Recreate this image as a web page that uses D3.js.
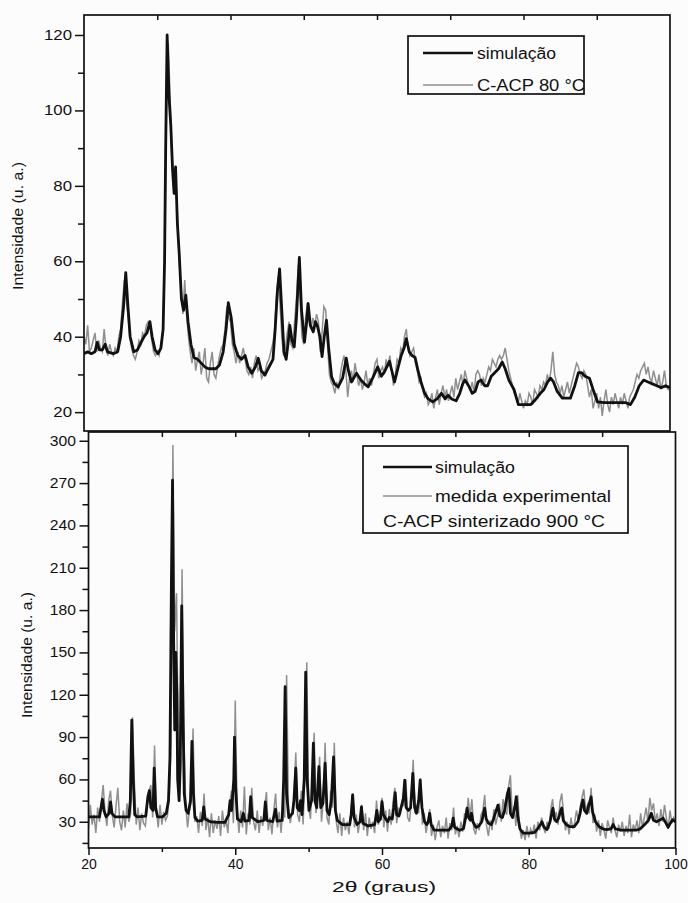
<!DOCTYPE html>
<html>
<head>
<meta charset="utf-8">
<script src="https://cdn.jsdelivr.net/npm/d3@7"></script>
<style>
  body { margin: 0; background: #fcfcfc; }
  svg { display: block; font-family: "Liberation Sans", Arial, Helvetica, sans-serif; }
</style>
</head>
<body>
<svg width="688" height="903"></svg>
<script>
// measured patterns are sampled every 0.25 degrees starting at 20
var twoThetaStart = 20, twoThetaStep = 0.25;

var xTicks = [20, 40, 60, 80, 100];
var xMinorTicks = [30, 50, 70, 90];
var edgeTicks = [30, 40, 50, 60, 70, 80, 90];

var topYTicks = [20, 40, 60, 80, 100, 120];
var topYMinor = [30, 50, 70, 90, 110];
var bottomYTicks = [30, 60, 90, 120, 150, 180, 210, 240, 270, 300];
var bottomYMinor = [15, 45, 75, 105, 135, 165, 195, 225, 255, 285];

var topLegend = ['simulação', 'C-ACP 80 °C'];
var bottomLegend = ['simulação', 'medida experimental', 'C-ACP sinterizado 900 °C'];

// [2theta, intensity]
var topSimulation = [
  [20, 35.5], [20.5, 36], [21, 35.5], [21.5, 36], [21.8, 38.5], [22.1, 36.5], [22.5, 36.5], [22.9, 38], [23.2, 36], [24, 35.5],
  [24.6, 36], [25, 40], [25.4, 48], [25.7, 57], [26, 48], [26.3, 40], [26.8, 36], [27.3, 36.5], [27.8, 38.5], [28.2, 40],
  [28.6, 41], [29, 44], [29.3, 40], [29.7, 36.5], [30.1, 35.5], [30.5, 37], [30.8, 42], [31.0, 60], [31.15, 90], [31.35, 120],
  [31.6, 104], [31.85, 96], [32.1, 84], [32.3, 78], [32.5, 85], [32.75, 70], [33.0, 62], [33.3, 50], [33.6, 47], [33.9, 51],
  [34.2, 44], [34.6, 38], [35.0, 34.5], [35.5, 34], [36, 33], [36.5, 32], [37, 31.5], [38, 31.5], [38.5, 32.5], [39, 36],
  [39.4, 42], [39.7, 49], [40.1, 45], [40.5, 38], [41.0, 35], [41.5, 34], [42.0, 35], [42.4, 32], [42.9, 30.3], [43.4, 32],
  [43.8, 34.3], [44.2, 31], [44.7, 29.8], [45.0, 31], [45.4, 32.5], [45.8, 34], [46.1, 42], [46.4, 52], [46.7, 58], [47.0, 47],
  [47.3, 36], [47.6, 34], [47.9, 39], [48.1, 43], [48.4, 39], [48.7, 37.3], [49.0, 45], [49.4, 61], [49.7, 47], [50.1, 38.6],
  [50.4, 44], [50.6, 48.8], [50.9, 43], [51.3, 41.3], [51.6, 44], [51.9, 42.6], [52.2, 40], [52.5, 34.7], [52.8, 40], [53.1, 44.4],
  [53.4, 37], [53.8, 29.4], [54.2, 27.5], [54.7, 26.7], [55.3, 29], [55.8, 34.3], [56.1, 31], [56.5, 28], [57.2, 30.3], [57.8, 28.5],
  [58.3, 27.5], [58.8, 26.7], [59.4, 29], [60.1, 32], [60.6, 29.5], [61.1, 31], [61.7, 33.5], [62.4, 28], [62.9, 32], [63.3, 35],
  [63.7, 37], [64.0, 39.5], [64.4, 36], [64.8, 35], [65.2, 34.5], [65.6, 31], [66.0, 28], [66.5, 25], [67.0, 23.5], [67.6, 22.7],
  [68.2, 23.5], [68.8, 25], [69.3, 23.5], [69.7, 24.5], [70.2, 23.5], [70.8, 23], [71.3, 25], [71.7, 27.5], [72.0, 28.5], [72.5, 27],
  [73.0, 25], [73.4, 25.5], [73.8, 28], [74.2, 28.5], [74.7, 27], [75.1, 27], [75.6, 29.5], [76.1, 30.5], [76.6, 31.5], [77.1, 33.3],
  [77.5, 31.5], [78.0, 28.5], [78.7, 26], [79.3, 22], [80, 22], [81, 22], [81.5, 23], [82.3, 25], [82.8, 26], [83.3, 28],
  [83.7, 29], [84.1, 28], [84.6, 25.5], [85.3, 23.7], [86.4, 23.7], [87.0, 27], [87.5, 30.5], [87.9, 30.5], [88.4, 29.5], [89.0, 29],
  [89.5, 26], [90.1, 22.7], [91, 22.5], [92, 22.5], [93, 22.5], [94, 22.5], [94.6, 22], [95.2, 24], [95.8, 27], [96.4, 28.5],
  [97, 28], [97.6, 27.5], [98.2, 27], [98.8, 26.5], [99.4, 27], [100, 26.5]
];

var topMeasured = [
  40, 38, 43, 36, 37, 39, 41, 36, 39, 37, 36, 42, 37, 35, 38, 36, 35, 37, 36, 40,
  42, 49, 55, 50, 46, 40, 37, 35, 34, 36, 39, 38, 41, 40, 43, 44, 43, 39, 36, 35,
  36, 35, 38, 41, 60, 100, 118, 104, 86, 80, 84, 72, 60, 53, 46, 55, 46, 40, 36, 33,
  37, 31, 34, 36, 30, 33, 37, 29, 28, 33, 36, 30, 29, 32, 35, 37, 38, 42, 48, 45,
  44, 38, 36, 33, 36, 33, 35, 37, 34, 31, 30, 32, 29, 33, 35, 31, 32, 29, 30, 31,
  33, 34, 36, 38, 41, 50, 56, 49, 40, 35, 37, 41, 44, 38, 37, 44, 50, 59, 50, 40,
  38, 45, 49, 44, 42, 45, 43, 46, 44, 36, 41, 48, 47, 38, 30, 28, 27, 25, 28, 26,
  30, 33, 35, 31, 24, 29, 31, 28, 33, 30, 27, 29, 26, 28, 31, 27, 29, 27, 30, 33,
  34, 29, 31, 32, 30, 34, 32, 35, 31, 27, 30, 34, 33, 37, 36, 40, 42, 37, 35, 36,
  37, 33, 31, 28, 29, 26, 24, 25, 22, 23, 25, 21, 24, 26, 22, 25, 27, 24, 26, 23,
  25, 27, 24, 29, 26, 28, 30, 27, 31, 29, 27, 26, 28, 25, 30, 31, 30, 27, 29, 28,
  30, 32, 31, 34, 33, 32, 34, 35, 34, 35, 37, 34, 31, 29, 27, 25, 24, 22, 25, 23,
  21, 23, 22, 25, 24, 22, 26, 25, 24, 27, 26, 28, 27, 30, 28, 31, 36, 30, 28, 27,
  25, 27, 24, 26, 28, 25, 27, 29, 31, 33, 32, 30, 29, 31, 30, 27, 24, 26, 21, 23,
  25, 21, 24, 19, 23, 26, 22, 20, 24, 22, 25, 23, 21, 24, 22, 25, 23, 21, 24, 25,
  26, 28, 30, 29, 31, 32, 33, 30, 32, 29, 28, 31, 29, 27, 30, 26, 28, 31, 27, 26,
  27
];

var bottomSimulation = [
  [20, 33.5], [21.5, 33.5], [21.7, 40], [21.9, 46], [22.1, 38], [22.4, 33.5], [22.8, 36], [23.0, 44], [23.2, 36], [23.6, 33.5],
  [25.5, 33.5], [25.7, 45], [25.9, 102], [26.1, 60], [26.3, 35], [26.6, 33.5], [27.8, 34], [28.1, 48], [28.3, 52], [28.5, 40],
  [28.8, 38], [28.95, 68], [29.15, 40], [29.4, 33.5], [30.1, 33.5], [30.6, 36], [30.9, 45], [31.1, 75], [31.3, 200], [31.45, 272],
  [31.6, 160], [31.75, 95], [31.9, 150], [32.05, 120], [32.15, 60], [32.35, 45], [32.5, 70], [32.7, 183], [32.9, 100], [33.05, 50],
  [33.3, 38], [33.6, 36], [33.9, 45], [34.1, 87], [34.3, 50], [34.5, 33], [34.9, 30.5], [35.5, 31], [35.7, 40.6], [35.9, 32],
  [36.6, 30], [37.6, 29.5], [38.6, 29.5], [39.1, 35], [39.3, 45], [39.5, 38], [39.8, 60], [39.9, 90], [40.05, 55], [40.3, 32],
  [40.8, 30], [41.1, 36], [41.3, 30.5], [41.9, 31], [42.1, 47.7], [42.3, 33], [43.1, 30], [43.9, 31], [44.1, 44], [44.3, 31],
  [45.1, 30], [45.5, 39], [45.7, 30.5], [46.4, 31], [46.6, 60], [46.8, 125.7], [47.0, 50], [47.3, 33], [47.8, 36], [48.0, 45],
  [48.25, 68], [48.45, 40], [48.7, 38], [48.9, 45], [49.1, 35], [49.4, 60], [49.6, 136], [49.8, 60], [50.05, 38], [50.4, 45],
  [50.65, 85.7], [50.85, 45], [51.1, 40], [51.4, 69], [51.65, 40], [51.95, 43], [52.25, 71.5], [52.5, 38], [52.8, 35], [53.1, 45],
  [53.4, 76], [53.65, 38], [53.9, 31], [54.6, 28], [55.6, 28], [55.8, 35], [56.0, 49], [56.2, 33], [56.6, 28], [57.0, 30],
  [57.2, 40.6], [57.4, 29], [58.1, 27], [59.0, 28], [59.3, 38], [59.5, 30], [59.8, 32], [60.0, 44.2], [60.2, 35], [60.5, 32],
  [60.8, 30], [61.0, 33], [61.4, 32], [61.6, 40], [61.8, 50.6], [62.0, 35], [62.3, 34], [62.6, 40], [62.9, 46], [63.1, 59.5],
  [63.3, 40], [63.6, 38], [63.9, 40], [64.2, 64.3], [64.45, 40], [64.7, 36], [65.0, 45], [65.2, 59.5], [65.45, 40], [65.8, 30],
  [66.1, 28], [66.3, 30], [66.5, 36], [66.7, 28], [67.1, 24], [68.1, 24], [69.1, 24], [69.5, 27], [69.7, 32.6], [69.9, 26],
  [70.6, 24], [71.1, 25], [71.4, 33], [71.6, 39.7], [71.8, 33], [72.05, 31], [72.2, 36], [72.4, 30], [72.8, 26], [73.2, 27],
  [73.6, 30], [73.8, 35], [74.0, 39.7], [74.2, 32], [74.5, 29], [74.9, 28], [75.2, 32], [75.5, 37], [75.8, 41.8], [76.05, 34],
  [76.4, 33], [76.7, 38], [77.1, 50], [77.3, 53.7], [77.5, 36], [77.8, 33], [78.1, 40], [78.3, 47.7], [78.5, 34], [78.8, 25],
  [79.2, 22], [80.1, 22], [80.8, 22.5], [81.2, 25], [81.6, 28], [81.8, 30], [82.1, 26], [82.5, 24.5], [82.9, 30], [83.1, 35],
  [83.3, 39.7], [83.5, 32], [83.8, 30], [84.1, 33], [84.3, 37], [84.5, 39.7], [84.7, 31], [85.1, 28], [85.6, 26.5], [86.2, 26.5],
  [86.7, 30], [87.0, 36], [87.2, 42], [87.4, 45.4], [87.6, 38], [87.9, 36], [88.2, 42], [88.5, 47.7], [88.7, 37], [89.1, 30],
  [89.6, 26.5], [90.1, 25], [90.6, 24.5], [91.2, 25], [91.5, 28], [91.8, 25], [92.6, 24], [93.6, 24], [94.6, 24], [95.2, 25],
  [95.8, 28], [96.3, 31], [96.7, 36], [97.0, 31], [97.4, 30], [97.8, 31], [98.3, 32.6], [98.7, 29], [99.0, 26], [99.3, 29],
  [99.6, 31.5], [100, 30]
];

var bottomMeasured = [
  25, 42, 28, 35, 22, 40, 30, 44, 56, 37, 27, 45, 52, 34, 26, 41, 54, 30, 24, 38,
  26, 43, 30, 36, 104, 58, 28, 40, 24, 36, 29, 27, 41, 52, 56, 33, 84, 39, 26, 42,
  28, 37, 31, 34, 46, 88, 297, 165, 192, 70, 58, 209, 90, 42, 26, 38, 44, 96, 30, 34,
  22, 37, 27, 50, 24, 33, 19, 36, 22, 31, 25, 34, 20, 38, 26, 31, 22, 44, 52, 29,
  116, 40, 22, 38, 26, 55, 21, 36, 28, 54, 30, 24, 38, 22, 34, 27, 40, 51, 24, 33,
  21, 38, 50, 26, 37, 22, 42, 33, 134, 40, 29, 37, 46, 79, 35, 30, 52, 28, 66, 143,
  40, 32, 58, 93, 36, 47, 76, 30, 45, 86, 33, 28, 52, 40, 86, 31, 22, 36, 20, 33,
  24, 30, 21, 37, 50, 26, 35, 22, 31, 42, 24, 36, 20, 33, 25, 30, 22, 45, 28, 36,
  47, 26, 38, 23, 39, 28, 44, 54, 29, 40, 35, 46, 41, 60, 33, 30, 45, 74, 36, 42,
  36, 61, 28, 36, 22, 30, 39, 20, 28, 17, 26, 31, 19, 27, 22, 33, 18, 29, 24, 40,
  21, 27, 19, 30, 23, 36, 32, 47, 33, 46, 25, 21, 29, 24, 35, 38, 49, 27, 20, 31,
  24, 39, 28, 34, 43, 30, 46, 38, 35, 55, 63, 35, 41, 27, 49, 26, 18, 24, 17, 27,
  19, 25, 21, 28, 18, 30, 24, 33, 26, 22, 30, 25, 39, 46, 30, 37, 28, 44, 50, 35,
  24, 30, 21, 33, 25, 29, 38, 31, 40, 47, 53, 38, 42, 36, 54, 29, 35, 23, 31, 20,
  29, 24, 18, 31, 26, 22, 33, 24, 19, 28, 23, 30, 20, 27, 22, 35, 19, 28, 24, 31,
  22, 36, 26, 33, 40, 29, 47, 38, 43, 30, 36, 27, 39, 30, 42, 33, 25, 38, 29, 33,
  30
];

var svg = d3.select('svg');
var ink = '#111';
var grey = '#8f8f8f';

function toPoints(values) {
  return values.map(function (v, i) { return [twoThetaStart + i * twoThetaStep, v]; });
}

var panels = [
  { name: 'top', x0: 84, x1: 670, yTop: 15, yBottom: 431, domain: [15, 125.3],
    major: topYTicks, minor: topYMinor, sim: topSimulation, meas: topMeasured,
    titleX: 18, titleY: 226, titleLen: 128, labelGap: 12, labelScale: 1.2 },
  { name: 'bottom', x0: 88.5, x1: 675.5, yTop: 432, yBottom: 848, domain: [11.4, 306.2],
    major: bottomYTicks, minor: bottomYMinor, sim: bottomSimulation, meas: bottomMeasured,
    titleX: 27, titleY: 655, titleLen: 126, labelGap: 12.5, labelScale: 1.12 }
];

panels.forEach(function (p) {
  var x = d3.scaleLinear().domain([20, 100]).range([p.x0, p.x1]);
  var y = d3.scaleLinear().domain(p.domain).range([p.yBottom, p.yTop]);
  var g = svg.append('g');

  g.append('clipPath').attr('id', 'clip-' + p.name)
    .append('rect')
    .attr('x', p.x0).attr('y', p.yTop)
    .attr('width', p.x1 - p.x0).attr('height', p.yBottom - p.yTop);

  var line = d3.line()
    .x(function (d) { return x(d[0]); })
    .y(function (d) { return y(d[1]); });

  g.append('path')
    .datum(toPoints(p.meas))
    .attr('d', line)
    .attr('fill', 'none')
    .attr('stroke', grey)
    .attr('stroke-width', 1.5)
    .attr('clip-path', 'url(#clip-' + p.name + ')');

  g.append('path')
    .datum(p.sim)
    .attr('d', line)
    .attr('fill', 'none')
    .attr('stroke', ink)
    .attr('stroke-width', 2.8)
    .attr('stroke-linejoin', 'round')
    .attr('clip-path', 'url(#clip-' + p.name + ')');

  g.append('rect')
    .attr('x', p.x0).attr('y', p.yTop)
    .attr('width', p.x1 - p.x0).attr('height', p.yBottom - p.yTop)
    .attr('fill', 'none')
    .attr('stroke', ink)
    .attr('stroke-width', 1.7);

  // left axis
  var minorY = g.append('g')
    .attr('transform', 'translate(' + p.x0 + ',0)')
    .call(d3.axisLeft(y).tickValues(p.minor).tickSize(6).tickFormat(''));
  var majorY = g.append('g')
    .attr('transform', 'translate(' + p.x0 + ',0)')
    .call(d3.axisLeft(y).tickValues(p.major).tickSize(9).tickPadding(3));
  majorY.selectAll('text')
    .attr('x', -p.labelGap / p.labelScale)
    .attr('transform', 'scale(' + p.labelScale + ',1)');

  // ticks on the top edge, pointing in
  var edge = g.append('g')
    .attr('transform', 'translate(0,' + p.yTop + ')')
    .call(d3.axisTop(x).tickValues(edgeTicks).tickSize(-5).tickFormat(''));

  [minorY, majorY, edge].forEach(function (a) {
    a.select('.domain').remove();
    a.attr('font-size', 14).attr('font-family', null).attr('color', ink);
    a.selectAll('line').attr('stroke-width', 1.5);
  });

  g.append('text')
    .attr('transform', 'translate(' + p.titleX + ',' + p.titleY + ') rotate(-90)')
    .attr('text-anchor', 'middle')
    .attr('dy', '0.35em')
    .attr('font-size', 14)
    .attr('textLength', p.titleLen)
    .attr('lengthAdjust', 'spacingAndGlyphs')
    .attr('fill', ink)
    .text('Intensidade (u. a.)');

  if (p.name === 'bottom') {
    var minorX = g.append('g')
      .attr('transform', 'translate(0,' + p.yBottom + ')')
      .call(d3.axisBottom(x).tickValues(xMinorTicks).tickSize(4).tickFormat(''));
    var majorX = g.append('g')
      .attr('transform', 'translate(0,' + p.yBottom + ')')
      .call(d3.axisBottom(x).tickValues(xTicks).tickSize(7).tickPadding(4));
    [minorX, majorX].forEach(function (a) {
      a.select('.domain').remove();
      a.attr('font-size', 14).attr('font-family', null).attr('color', ink);
      a.selectAll('line').attr('stroke-width', 1.5);
    });

    g.append('text')
      .attr('x', 384).attr('y', 892)
      .attr('text-anchor', 'middle')
      .attr('font-size', 15)
      .attr('textLength', 104)
      .attr('lengthAdjust', 'spacingAndGlyphs')
      .attr('fill', ink)
      .text('2θ (graus)');
  }
});

// legends
function legendBox(x, y, w, h) {
  svg.append('rect')
    .attr('x', x).attr('y', y).attr('width', w).attr('height', h)
    .attr('fill', 'none').attr('stroke', ink).attr('stroke-width', 1.7);
}

function legendText(x, y, label, len) {
  svg.append('text')
    .attr('x', x).attr('y', y)
    .attr('font-size', 16)
    .attr('textLength', len)
    .attr('lengthAdjust', 'spacingAndGlyphs')
    .attr('fill', ink)
    .text(label);
}

function legendLine(x1, x2, y, color, width) {
  svg.append('line')
    .attr('x1', x1).attr('x2', x2).attr('y1', y).attr('y2', y)
    .attr('stroke', color).attr('stroke-width', width);
}

legendBox(408, 36, 176, 58);
legendLine(423, 473, 53, ink, 2.4);
legendLine(423, 473, 85, grey, 1.5);
legendText(477, 59, topLegend[0], 79);
legendText(477, 91, topLegend[1], 108);

legendBox(363, 446, 265, 87);
legendLine(383, 432, 467, ink, 2.4);
legendLine(383, 432, 496, grey, 1.5);
legendText(435, 473, bottomLegend[0], 80);
legendText(435, 502, bottomLegend[1], 176);
legendText(383, 527, bottomLegend[2], 222);
</script>
</body>
</html>
